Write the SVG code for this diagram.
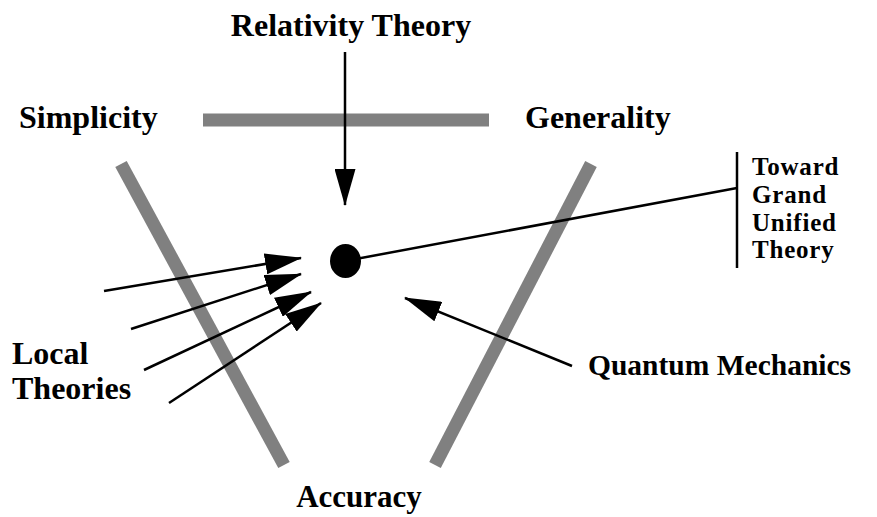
<svg xmlns="http://www.w3.org/2000/svg" width="877" height="517" viewBox="0 0 877 517">
<style>
.t{font-family:"Liberation Serif","Times New Roman",serif;font-weight:bold;fill:#000}
.g{font-size:25px;letter-spacing:0.8px}
.bar{stroke:#808080;stroke-width:13;fill:none}
.ln{stroke:#000;stroke-width:2.5;fill:none}
</style>
<defs>
<marker id="ah" viewBox="0 0 37 21" refX="36" refY="10.5" markerWidth="37" markerHeight="21" markerUnits="userSpaceOnUse" orient="auto">
<path d="M0,0 L37,10.5 L0,21 Z" fill="#000"/>
</marker>
</defs>
<rect width="877" height="517" fill="#fff"/>
<g id="triangle">
<line class="bar" x1="203" y1="120" x2="489" y2="120"/>
<line class="bar" x1="121" y1="164" x2="284" y2="465"/>
<line class="bar" x1="591" y1="164" x2="435" y2="465"/>
</g>
<g id="labels">
<text class="t" x="351" y="36" font-size="32" text-anchor="middle">Relativity Theory</text>
<text class="t" x="19" y="128" font-size="32">Simplicity</text>
<text class="t" x="525" y="128" font-size="32">Generality</text>
<text class="t" x="12" y="364" font-size="32">Local</text>
<text class="t" x="12" y="399" font-size="32">Theories</text>
<text class="t" x="588" y="375" font-size="29.5">Quantum Mechanics</text>
<text class="t" x="359" y="507" font-size="31" text-anchor="middle">Accuracy</text>
</g>
<g id="gut">
<line class="ln" x1="737" y1="152" x2="737" y2="268"/>
<text class="t g" x="752" y="175">Toward</text>
<text class="t g" x="752" y="203">Grand</text>
<text class="t g" x="752" y="231">Unified</text>
<text class="t g" x="752" y="258">Theory</text>
</g>
<g id="dot">
<ellipse cx="345.5" cy="261" rx="15.5" ry="17" fill="#000"/>
</g>
<g id="connectors">
<line class="ln" x1="345" y1="261" x2="737" y2="188"/>
<line class="ln" x1="345" y1="52" x2="345" y2="205" marker-end="url(#ah)"/>
<line class="ln" x1="104" y1="291" x2="301" y2="258" marker-end="url(#ah)"/>
<line class="ln" x1="131" y1="329" x2="301" y2="274" marker-end="url(#ah)"/>
<line class="ln" x1="144" y1="370" x2="311" y2="292" marker-end="url(#ah)"/>
<line class="ln" x1="169" y1="403" x2="321" y2="303" marker-end="url(#ah)"/>
<line class="ln" x1="572" y1="366" x2="405" y2="298" marker-end="url(#ah)"/>
</g>
</svg>
